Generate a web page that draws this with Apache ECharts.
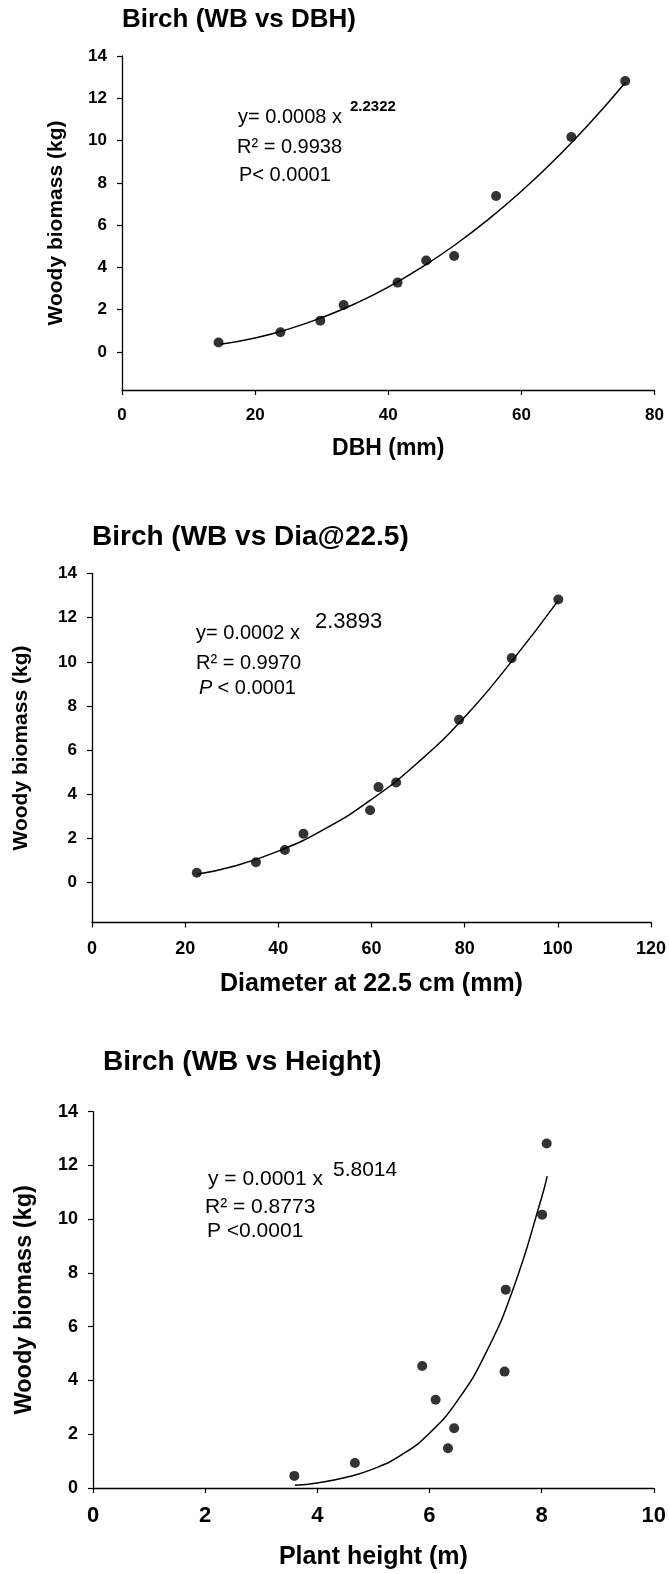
<!DOCTYPE html>
<html>
<head>
<meta charset="utf-8">
<script src="https://cdn.jsdelivr.net/npm/echarts@6/dist/echarts.min.js"></script>
<style>
html,body{margin:0;padding:0;background:#fff;}
#c{width:669px;height:1574px;}
</style>
</head>
<body>
<div id="c"></div>
<script>
// ---- data ----
const woodyBiomass = [0.45, 0.93, 1.48, 2.22, 3.28, 4.33, 4.54, 7.38, 10.17, 12.82];
const dbh          = [14.5, 23.8, 29.8, 33.3, 41.4, 45.7, 49.9, 56.2, 67.5, 75.6];
const dia225       = [22.5, 35.2, 41.4, 45.4, 59.7, 61.5, 65.3, 78.8, 90.1, 100.1];
const plantHeight  = [3.59, 4.67, 6.33, 6.44, 6.11, 7.34, 5.87, 7.36, 8.01, 8.09];

// fitted power curves as drawn in the picture
const fitDbhX = [14.8, 20, 25, 30, 35, 40, 45, 50, 55, 60, 65, 70, 75.6];
const fitDbhY = [0.36, 0.66, 1.08, 1.62, 2.28, 3.07, 4.0, 5.06, 6.26, 7.6, 9.09, 10.72, 12.73];
const fitDiaX = [22.5, 30, 40, 50, 60, 70, 80, 90, 100];
const fitDiaY = [0.38, 0.72, 1.43, 2.44, 3.77, 5.45, 7.5, 10.0, 12.75];
const fitHtX  = [3.6, 4, 4.5, 5, 5.5, 6, 6.5, 7, 7.5, 8, 8.1];
const fitHtY  = [0.1, 0.19, 0.39, 0.71, 1.23, 2.04, 3.25, 5.0, 7.45, 10.8, 11.6];

const yTickValues = [0, 2, 4, 6, 8, 10, 12, 14];

const titles = ['Birch (WB vs DBH)', 'Birch (WB vs Dia@22.5)', 'Birch (WB vs Height)'];
const xNames = ['DBH (mm)', 'Diameter at 22.5 cm (mm)', 'Plant height (m)'];
const yName = 'Woody biomass (kg)';
const eqs = [
  ['y= 0.0008 x', '2.2322', 'R\u00B2 = 0.9938', 'P< 0.0001'],
  ['y= 0.0002 x', '2.3893', 'R\u00B2 = 0.9970', ' < 0.0001'],
  ['y = 0.0001 x', '5.8014', 'R\u00B2 = 0.8773', 'P <0.0001']
];

const FONT = '"Liberation Sans", Arial, Helvetica, sans-serif';
const zip = (a, b) => a.map((v, i) => [v, b[i]]);

const chart = echarts.init(document.getElementById('c'), null, {renderer: 'canvas'});

function xAx(gi, max, interval, labelSize, margin, name, nameSize, nameGap) {
  return {
    gridIndex: gi, type: 'value', min: 0, max: max, interval: interval,
    axisLine: {onZero: false, lineStyle: {color: '#000', width: 1.3}},
    axisTick: {show: true, inside: false, length: 5, lineStyle: {color: '#000', width: 1.2}},
    axisLabel: {color: '#000', fontFamily: FONT, fontWeight: 'bold', fontSize: labelSize, margin: margin},
    splitLine: {show: false},
    name: name, nameLocation: 'middle', nameGap: nameGap,
    nameTextStyle: {color: '#000', fontFamily: FONT, fontWeight: 'bold', fontSize: nameSize}
  };
}
function yAx(gi, min, labelSize, nameSize, nameGap) {
  return {
    gridIndex: gi, type: 'value', min: min, max: 14,
    axisLine: {onZero: false, lineStyle: {color: '#000', width: 1.3}},
    axisTick: {show: true, length: 5, customValues: yTickValues, lineStyle: {color: '#000', width: 1.2}},
    axisLabel: {color: '#000', fontFamily: FONT, fontWeight: 'bold', fontSize: labelSize, margin: 15, customValues: yTickValues},
    splitLine: {show: false},
    name: yName, nameLocation: 'middle', nameGap: nameGap, nameRotate: 90,
    nameTextStyle: {color: '#000', fontFamily: FONT, fontWeight: 'bold', fontSize: nameSize}
  };
}
function txt(left, top, text, size, weight, style) {
  return {type: 'text', left: left, top: top,
    style: {text: text, fill: '#000', font: (style || 'normal') + ' ' + (weight || 'normal') + ' ' + size + 'px ' + FONT}};
}
function ttl(text, left, top, size) {
  return {text: text, left: left, top: top, padding: 0,
    textStyle: {fontFamily: FONT, fontWeight: 'bold', fontSize: size, color: '#000'}};
}

const option = {
  backgroundColor: '#fff',
  animation: false,
  title: [
    ttl(titles[0], 122, 7, 26),
    ttl(titles[1], 92, 523, 28),
    ttl(titles[2], 103, 1048, 28)
  ],
  grid: [
    {left: 122, top: 56, width: 532.5, height: 334},
    {left: 92, top: 573.5, width: 562, height: 349},
    {left: 93, top: 1111.7, width: 561, height: 376.3}
  ],
  xAxis: [
    xAx(0, 80, 20, 17, 17, xNames[0], 23, 47),
    xAx(1, 120, 20, 18, 18, xNames[1], 25, 49),
    xAx(2, 10, 2, 22, 17, xNames[2], 25, 57)
  ],
  yAxis: [
    yAx(0, -1.8, 17, 21, 55),
    yAx(1, -1.8, 17, 21, 60),
    yAx(2, 0, 18, 23.5, 56)
  ],
  series: [
    {type: 'line', xAxisIndex: 0, yAxisIndex: 0, data: zip(fitDbhX, fitDbhY), smooth: true, showSymbol: false, lineStyle: {color: '#000', width: 1.5}},
    {type: 'scatter', xAxisIndex: 0, yAxisIndex: 0, data: zip(dbh, woodyBiomass), symbolSize: 10, itemStyle: {color: '#000'}},
    {type: 'line', xAxisIndex: 1, yAxisIndex: 1, data: zip(fitDiaX, fitDiaY), smooth: true, showSymbol: false, lineStyle: {color: '#000', width: 1.5}},
    {type: 'scatter', xAxisIndex: 1, yAxisIndex: 1, data: zip(dia225, woodyBiomass), symbolSize: 10, itemStyle: {color: '#000'}},
    {type: 'line', xAxisIndex: 2, yAxisIndex: 2, data: zip(fitHtX, fitHtY), smooth: true, showSymbol: false, lineStyle: {color: '#000', width: 1.5}},
    {type: 'scatter', xAxisIndex: 2, yAxisIndex: 2, data: zip(plantHeight, woodyBiomass), symbolSize: 10, itemStyle: {color: '#000'}}
  ],
  graphic: [
    txt(238, 107, eqs[0][0], 20),
    txt(350, 99, eqs[0][1], 15, 'bold'),
    txt(237, 137, eqs[0][2], 20),
    txt(239, 165, eqs[0][3], 20),

    txt(196, 623, eqs[1][0], 20),
    txt(315, 611, eqs[1][1], 22),
    txt(196, 653, eqs[1][2], 20),
    txt(199, 678, 'P', 20, 'normal', 'italic'),
    txt(212, 678, eqs[1][3], 20),

    txt(208, 1169, eqs[2][0], 21),
    txt(333, 1160, eqs[2][1], 21),
    txt(205, 1197, eqs[2][2], 21),
    txt(207, 1221, eqs[2][3], 21)
  ]
};
chart.setOption(option);
</script>
</body>
</html>
